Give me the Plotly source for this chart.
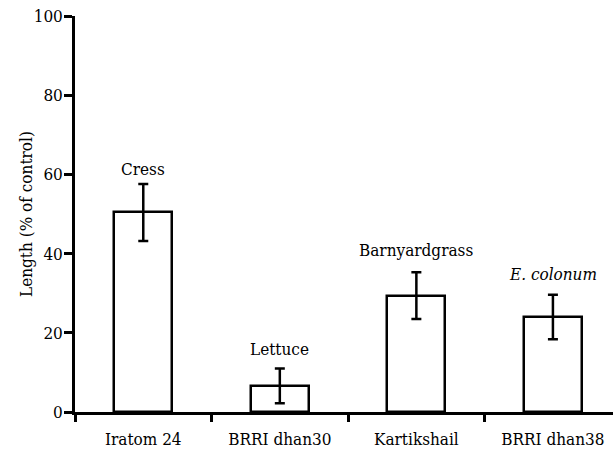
import plotly.graph_objects as go

# Cultivars on the x axis and the test species bioassayed on each
cultivars = ["Iratom 24", "BRRI dhan30", "Kartikshail", "BRRI dhan38"]
species = ["Cress", "Lettuce", "Barnyardgrass", "<i>E. colonum</i>"]
length_pct = [50.4, 6.6, 29.4, 24.0]
error_pct = [7.2, 4.4, 5.9, 5.6]

# vertical pixel gap between each error-bar cap and its species label
label_gap = [15, 19, 22, 21]

FONT = "DejaVu Serif Condensed, DejaVu Serif"
SIZE = 17

fig = go.Figure()
fig.add_trace(go.Bar(
    x=cultivars,
    y=length_pct,
    width=0.425,
    marker=dict(color="white", line=dict(color="black", width=2.5)),
    error_y=dict(type="data", array=error_pct, visible=True,
                 color="black", thickness=2.5, width=5),
    showlegend=False,
))

for name, sp, v, e, gap in zip(cultivars, species, length_pct, error_pct, label_gap):
    fig.add_annotation(x=name, y=v + e, text=sp, showarrow=False,
                       xanchor="center", yanchor="middle", yshift=gap,
                       font=dict(family=FONT, size=SIZE, color="black"))

fig.add_annotation(xref="paper", yref="paper", x=0, y=0.5,
                   text="Length (% of control)", textangle=-90,
                   showarrow=False, xanchor="center", yanchor="middle",
                   xshift=-49,
                   font=dict(family=FONT, size=SIZE, color="black"))

fig.update_layout(
    width=613, height=455,
    margin=dict(l=75, r=0, t=16, b=43),
    paper_bgcolor="white", plot_bgcolor="white",
    font=dict(family=FONT, size=SIZE, color="black"),
    bargap=0,
)
fig.update_xaxes(
    type="category", range=[-0.5, 3.44],
    showline=True, linecolor="black", linewidth=2.5,
    ticks="outside", tickson="boundaries", ticklen=7, tickwidth=2.5,
    tickcolor="black", showgrid=False, zeroline=False,
    ticklabelstandoff=10,
    tickfont=dict(family=FONT, size=SIZE, color="black"),
)
fig.update_yaxes(
    range=[0, 100], tickvals=[0, 20, 40, 60, 80, 100],
    showline=True, linecolor="black", linewidth=2.5,
    ticks="outside", ticklen=8, tickwidth=2.5, tickcolor="black",
    showgrid=False, zeroline=False,
    ticklabelstandoff=-2,
    tickfont=dict(family=FONT, size=SIZE, color="black"),
)

fig.write_html("out.html")
